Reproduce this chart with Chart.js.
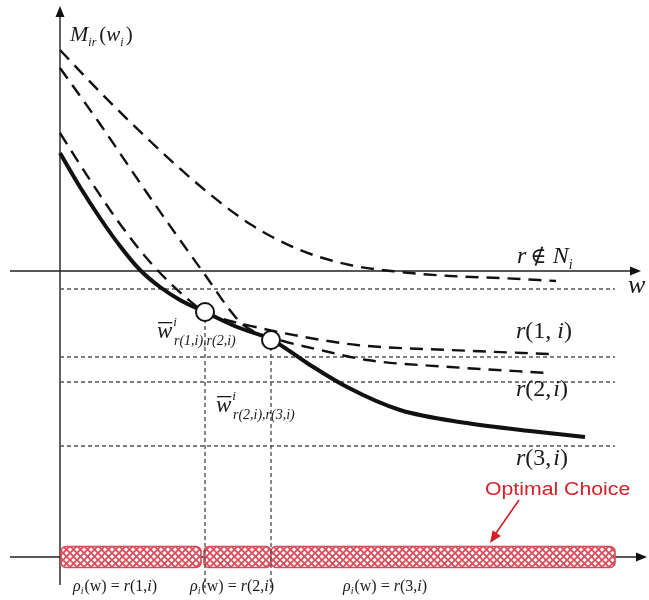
<!DOCTYPE html>
<html><head><meta charset="utf-8">
<script src="https://cdn.jsdelivr.net/npm/chart.js@4/dist/chart.umd.min.js"></script>
<style>html,body{margin:0;padding:0;background:#fff;}#wrap{width:649px;height:600px;position:relative;}</style>
</head><body><div id="wrap"><canvas id="c"></canvas></div>
<script>
// ---- data (w along the horizontal axis, M_ir(w_i) vertical) ----
const wNotN = [0, 0.8, 1.8, 2.8, 3.8, 4.8, 5.8, 6.8, 7.8, 8.8, 9.92];
const mNotN = [4.42, 3.58, 2.6, 1.7, 0.94, 0.42, 0.12, -0.02, -0.1, -0.14, -0.2];
const wR2 = [0, 0.8, 1.74, 2.86, 3.6, 3.9, 4.46, 5.2, 6.14, 7.8, 9.76];
const mR2 = [4.06, 2.94, 1.56, -0.02, -1.02, -1.22, -1.4, -1.58, -1.78, -1.92, -2.04];
const wR1 = [0, 0.6, 1.2, 1.8, 2.46, 2.9, 3.4, 4.0, 4.46, 5.94, 7.8, 9.8];
const mR1 = [2.76, 1.82, 0.94, 0.18, -0.48, -0.82, -1.0, -1.14, -1.24, -1.48, -1.58, -1.66];
const wR3 = [0, 0.4, 0.8, 1.2, 1.6, 2.0, 2.4, 2.9, 3.54, 4.24, 4.94, 5.74, 6.8, 8.14, 9.4, 10.5];
const mR3 = [2.36, 1.68, 1.06, 0.5, 0.02, -0.32, -0.58, -0.82, -1.12, -1.38, -1.84, -2.32, -2.78, -3.04, -3.2, -3.32];
const levelM = [-0.36, -1.72, -2.22, -3.5];
const levelEndW = 11.1;
const crossW = [2.9, 4.22];
const crossM = [-0.82, -1.38];
const choiceStart = [0.02, 2.88, 4.22];
const choiceEnd = [2.82, 4.22, 11.1];
const choiceAxisM = -5.72;
const dropToM = -6.34;
const xMin = -1.2, xMax = 11.78, yMin = -6.58, yMax = 5.42;

const pts = (ws, ms) => ws.map((w, i) => ({x: w, y: ms[i]}));
const curve = (ws, ms, width, dash) => ({
  data: pts(ws, ms), borderColor: '#111', borderWidth: width, borderDash: dash,
  pointRadius: 0, fill: false, cubicInterpolationMode: 'monotone', order: 2
});
const guide = (data) => ({
  data, borderColor: '#555', borderWidth: 1.4, borderDash: [4, 3],
  pointRadius: 0, fill: false, tension: 0, order: 3
});

const datasets = [];
levelM.forEach(m => datasets.push(guide([{x: 0, y: m}, {x: levelEndW, y: m}])));
crossW.forEach((w, i) => datasets.push(guide([{x: w, y: crossM[i]}, {x: w, y: dropToM}])));
datasets.push(curve(wNotN, mNotN, 2.4, [13, 8]));
datasets.push(curve(wR2, mR2, 2.4, [13, 8]));
datasets.push(curve(wR1, mR1, 2.4, [13, 8]));
datasets.push(curve(wR3, mR3, 4, []));
datasets.push({
  data: pts(crossW, crossM), showLine: false, pointRadius: 9, pointHoverRadius: 9,
  pointBackgroundColor: '#fff', pointBorderColor: '#111', pointBorderWidth: 2, order: 0
});

const SERIF = '"Liberation Serif","DejaVu Serif",serif';
function runs(ctx, x, y, parts) {
  for (const p of parts) {
    ctx.font = (p[2] ? 'italic ' : '') + p[1] + 'px ' + SERIF;
    ctx.fillText(p[0], x, y + (p[3] || 0));
    x += ctx.measureText(p[0]).width + (p[4] || 0);
  }
  return x;
}
function arrowHead(ctx, x, y, dx, dy, len, half) {
  const n = Math.hypot(dx, dy); dx /= n; dy /= n;
  ctx.beginPath();
  ctx.moveTo(x, y);
  ctx.lineTo(x - dx * len - dy * half, y - dy * len + dx * half);
  ctx.lineTo(x - dx * len + dy * half, y - dy * len - dx * half);
  ctx.closePath(); ctx.fill();
}
function hatch(ctx) {
  const s = 7;
  const t = document.createElement('canvas'); t.width = s; t.height = s;
  const g = t.getContext('2d');
  g.fillStyle = '#fff'; g.fillRect(0, 0, s, s);
  g.strokeStyle = 'rgb(222,78,92)'; g.lineWidth = 1.9;
  g.beginPath();
  g.moveTo(-1, -1); g.lineTo(s + 1, s + 1); g.moveTo(s + 1, -1); g.lineTo(-1, s + 1);
  g.stroke();
  return ctx.createPattern(t, 'repeat');
}

const deco = {
  id: 'deco',
  beforeDatasetsDraw(chart) {
    const {ctx, scales: {x, y}} = chart;
    ctx.save();
    ctx.strokeStyle = '#222'; ctx.lineWidth = 1.4;
    ctx.beginPath();
    ctx.moveTo(x.getPixelForValue(0), y.getPixelForValue(-6.28));
    ctx.lineTo(x.getPixelForValue(0), y.getPixelForValue(5.2));
    ctx.moveTo(x.getPixelForValue(-1), y.getPixelForValue(0));
    ctx.lineTo(x.getPixelForValue(11.5), y.getPixelForValue(0));
    ctx.moveTo(x.getPixelForValue(-1), y.getPixelForValue(choiceAxisM));
    ctx.lineTo(x.getPixelForValue(11.65), y.getPixelForValue(choiceAxisM));
    ctx.stroke();
    ctx.fillStyle = '#111';
    arrowHead(ctx, x.getPixelForValue(0), y.getPixelForValue(5.3), 0, -1, 11, 4.5);
    arrowHead(ctx, x.getPixelForValue(11.62), y.getPixelForValue(0), 1, 0, 11, 4.5);
    arrowHead(ctx, x.getPixelForValue(11.74), y.getPixelForValue(choiceAxisM), 1, 0, 11, 4.5);
    // optimal-choice bars
    const pat = hatch(ctx);
    const yc = y.getPixelForValue(choiceAxisM);
    for (let i = 0; i < choiceStart.length; i++) {
      const x0 = x.getPixelForValue(choiceStart[i]), x1 = x.getPixelForValue(choiceEnd[i]);
      ctx.beginPath();
      ctx.roundRect(x0, yc - 10.5, x1 - x0, 21, 5);
      ctx.fillStyle = pat; ctx.fill();
      ctx.strokeStyle = 'rgb(215,75,88)'; ctx.lineWidth = 1.6; ctx.stroke();
    }
    ctx.restore();
  },
  afterDatasetsDraw(chart) {
    const {ctx} = chart;
    ctx.save();
    ctx.fillStyle = '#1a1a1a';
    ctx.textBaseline = 'alphabetic';
    runs(ctx, 70, 41, [['M', 22, true], ['ir', 12, true, 5, 3], ['(', 21, false], ['w', 21, true], ['i', 12, true, 5, 2], [')', 21, false]]);
    runs(ctx, 517, 263, [['r', 24, true, 0, 4], ['\u2209', 22, false, 0, 6], ['N', 24, true], ['i', 14, true, 6]]);
    runs(ctx, 628, 293, [['w', 26, true]]);
    runs(ctx, 516, 338, [['r', 24, true], ['(1, ', 24, false], ['i', 24, true], [')', 24, false]]);
    runs(ctx, 516, 396, [['r', 24, true], ['(2,', 24, false, 0, 2], ['i', 24, true], [')', 24, false]]);
    runs(ctx, 516, 465, [['r', 24, true], ['(3,', 24, false, 0, 2], ['i', 24, true], [')', 24, false]]);
    // w-bar labels
    let xe = runs(ctx, 157, 338, [['w', 23, true, 0, 1]]);
    ctx.fillRect(158, 322, xe - 159, 1.3);
    runs(ctx, xe, 338, [['i', 13, true, -12, -3], ['r(1,i),r(2,i)', 14, true, 7]]);
    xe = runs(ctx, 216, 412, [['w', 23, true, 0, 1]]);
    ctx.fillRect(217, 396, xe - 218, 1.3);
    runs(ctx, xe, 412, [['i', 13, true, -12, -3], ['r(2,i),r(3,i)', 14, true, 7]]);
    // choice labels
    runs(ctx, 73, 591, [['\u03c1', 16, true], ['i', 10, true, 3, 1], ['(w) = ', 16, false], ['r', 16, true], ['(1,', 16, false], ['i', 16, true], [')', 16, false]]);
    runs(ctx, 190, 591, [['\u03c1', 16, true], ['i', 10, true, 3, 1], ['(w) = ', 16, false], ['r', 16, true], ['(2,', 16, false], ['i', 16, true], [')', 16, false]]);
    runs(ctx, 343, 591, [['\u03c1', 16, true], ['i', 10, true, 3, 1], ['(w) = ', 16, false], ['r', 16, true], ['(3,', 16, false], ['i', 16, true], [')', 16, false]]);
    // Optimal Choice
    ctx.fillStyle = 'rgb(212,32,40)';
    ctx.save();
    ctx.translate(485, 495); ctx.scale(1.18, 1);
    ctx.font = '18px "Liberation Sans",Arial,sans-serif';
    ctx.fillText('Optimal Choice', 0, 0);
    ctx.restore();
    ctx.strokeStyle = 'rgb(212,32,40)'; ctx.lineWidth = 1.6;
    ctx.beginPath(); ctx.moveTo(519, 500); ctx.lineTo(494, 536); ctx.stroke();
    arrowHead(ctx, 490, 543, -26, 38, 12, 5);
    ctx.restore();
  }
};

new Chart(document.getElementById('c'), {
  type: 'line',
  data: {datasets},
  options: {
    responsive: true, maintainAspectRatio: false, animation: false,
    layout: {padding: 0, autoPadding: false},
    plugins: {legend: {display: false}, tooltip: {enabled: false}},
    scales: {
      x: {type: 'linear', min: xMin, max: xMax, display: false},
      y: {type: 'linear', min: yMin, max: yMax, display: false}
    },
    elements: {line: {borderCapStyle: 'butt'}}
  },
  plugins: [deco]
});
</script></body></html>
